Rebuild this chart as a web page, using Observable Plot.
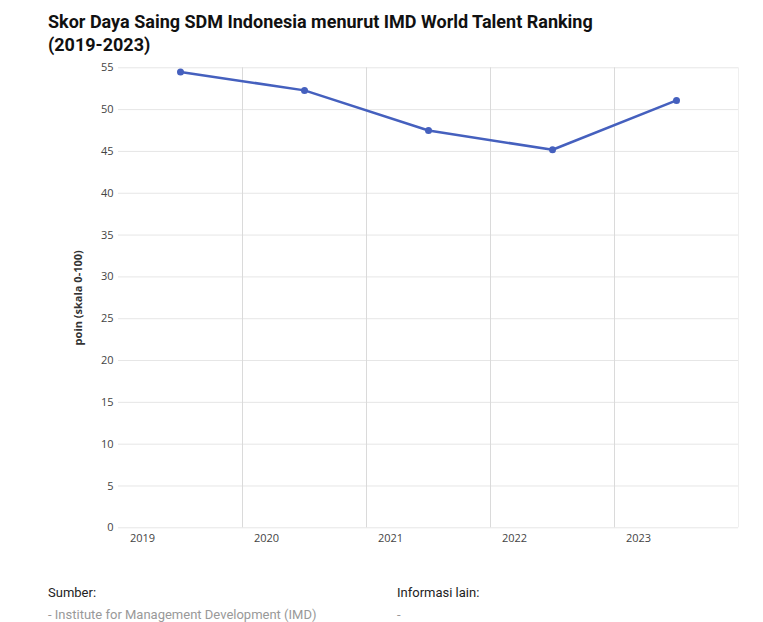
<!DOCTYPE html>
<html>
<head>
<meta charset="utf-8">
<script src="https://cdn.jsdelivr.net/npm/d3@7"></script>
<script src="https://cdn.jsdelivr.net/npm/@observablehq/plot@0.6"></script>
<style>
  html, body { margin: 0; padding: 0; background: #fff; width: 763px; height: 622px; overflow: hidden; }
  #title { position: absolute; left: 48px; top: 10px; font-family: Roboto, sans-serif; font-weight: 700; font-size: 18px; line-height: 23px; color: #111; width: 700px; }
  #chart { position: absolute; left: 0; top: 55px; }
  .foot { position: absolute; font-family: Roboto, sans-serif; font-size: 13px; line-height: 22px; }
  .foot .h { color: #222; }
  .foot .v { color: #999; }
</style>
</head>
<body>
<div id="title">Skor Daya Saing SDM Indonesia menurut IMD World Talent Ranking<br>(2019-2023)</div>
<div id="chart"></div>
<div class="foot" style="left:48px; top:582px;"><div class="h">Sumber:</div><div class="v">- Institute for Management Development (IMD)</div></div>
<div class="foot" style="left:397px; top:582px;"><div class="h">Informasi lain:</div><div class="v">-</div></div>
<script>
const years = [2019, 2020, 2021, 2022, 2023];
const scores = [54.5, 52.3, 47.5, 45.2, 51.1];
const yTicks = [0, 5, 10, 15, 20, 25, 30, 35, 40, 45, 50, 55];
const yLabel = "poin (skala 0-100)";

const data = years.map((y, i) => ({year: y, score: scores[i]}));
const xPos = d => d.year + 0.5;

const chart = Plot.plot({
  width: 763,
  height: 500,
  marginTop: 12.3,
  marginBottom: 27.7,
  marginLeft: 118,
  marginRight: 25,
  style: {fontFamily: "'Open Sans', sans-serif", fontSize: "11px", color: "#444"},
  x: {domain: [2019, 2024]},
  y: {domain: [0, 55]},
  marks: [
    Plot.ruleY(yTicks, {stroke: "#e6e6e6", strokeWidth: 1}),
    Plot.ruleX(years.slice(1), {stroke: "#dadada", strokeWidth: 1}),
    Plot.ruleX([years[years.length - 1] + 1], {stroke: "#efefef", strokeWidth: 1}),
    Plot.axisY({ticks: yTicks, tickSize: 0, tickPadding: 5, label: null, fill: "#444", fontSize: 11}),
    Plot.axisX({ticks: years, tickSize: 0, tickPadding: 6, tickFormat: d => String(d), dx: 24, label: null, fill: "#444", fontSize: 11}),
    Plot.text([yLabel], {text: d => d, frameAnchor: "left", textAnchor: "middle", dx: -40, rotate: -90, fontWeight: "bold", fontSize: 11, fill: "#333"}),
    Plot.line(data, {x: xPos, y: "score", stroke: "#4560be", strokeWidth: 2.5}),
    Plot.dot(data, {x: xPos, y: "score", r: 3.5, fill: "#4560be"})
  ]
});
document.getElementById("chart").appendChild(chart);
</script>
</body>
</html>
